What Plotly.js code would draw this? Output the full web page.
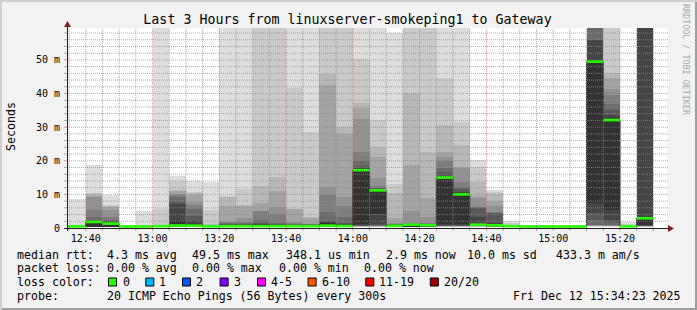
<!DOCTYPE html>
<html><head><meta charset="utf-8">
<script src="https://cdn.plot.ly/plotly-3.0.1.min.js"></script>
<style>html,body{margin:0;padding:0;background:#f2f2f2}#chart{width:697px;height:310px}</style>
</head><body><div id="chart"></div>
<script>
// ---------------- data ----------------
const chartTitle = "Last 3 Hours from linuxserver-smokeping1 to Gateway";
const rangeStart = "12:34:23";
const rangeEnd = "15:34:23";
// start of each 5-minute slot
const slotStart = ["12:30","12:35","12:40","12:45","12:50","12:55","13:00","13:05","13:10","13:15",
  "13:20","13:25","13:30","13:35","13:40","13:45","13:50","13:55","14:00","14:05",
  "14:10","14:15","14:20","14:25","14:30","14:35","14:40","14:45","14:50","14:55",
  "15:00","15:05","15:10","15:15","15:20","15:25"];
// median rtt per slot (ms)
const medianMs = [0.45,0.5,1.8,1.3,0.45,0.45,0.55,0.75,0.7,0.5,
  0.55,0.55,0.55,0.55,0.55,0.55,0.7,0.6,17.2,11.2,
  0.65,1.0,0.8,15.0,10.0,1.0,0.8,0.55,0.45,0.45,
  0.45,0.45,49.5,32.1,0.5,2.9];
// 20 sorted ping rtts per slot (ms)
const pingsMs = [
 [0.3,0.32,0.34,0.36,0.38,0.4,0.41,0.42,0.43,0.44,0.45,0.46,0.48,0.5,0.52,0.54,0.56,0.6,0.65,0.75],
 [0.3,0.32,0.34,0.36,0.38,0.4,0.41,0.42,0.43,0.44,0.45,0.46,0.48,0.5,0.52,0.54,0.56,0.6,0.8,8.6],
 [0.2,0.21,0.22,0.23,0.24,0.25,0.26,0.27,0.28,0.3,2.0,2.05,2.1,3.4,5.5,9.1,9.6,10.0,10.5,18.8],
 [0.2,0.22,0.25,0.28,0.3,0.32,0.34,0.36,0.38,0.4,1.5,1.6,2.0,2.4,3.4,5.4,6.2,6.5,6.7,9.9],
 [0.3,0.32,0.34,0.36,0.38,0.4,0.41,0.42,0.43,0.44,0.45,0.46,0.48,0.5,0.52,0.54,0.56,0.6,0.65,0.75],
 [0.3,0.32,0.34,0.36,0.38,0.4,0.41,0.42,0.43,0.44,0.45,0.46,0.48,0.5,0.52,0.54,0.56,0.6,0.9,5.1],
 [0.3,0.32,0.34,0.36,0.38,0.4,0.41,0.42,0.43,0.44,0.45,0.46,0.48,0.5,0.52,0.55,0.6,0.9,5.6,70],
 [0.3,0.32,0.34,0.36,0.38,0.4,0.42,0.45,0.5,0.55,2.0,7.0,7.8,9.1,9.8,10.1,11.0,11.3,14.0,15.5],
 [0.3,0.32,0.34,0.36,0.38,0.4,0.42,0.45,0.5,0.55,1.2,2.2,3.7,5.7,6.8,7.8,9.8,10.5,10.6,14.1],
 [0.3,0.32,0.34,0.36,0.38,0.4,0.41,0.42,0.43,0.44,0.45,0.46,0.48,0.5,0.55,0.6,0.8,1.2,5.3,13.8],
 [0.3,0.32,0.34,0.36,0.38,0.4,0.41,0.42,0.43,0.44,0.9,1.0,1.2,1.4,1.7,1.9,6.5,9.3,9.5,70],
 [0.3,0.32,0.34,0.36,0.38,0.4,0.41,0.42,0.43,0.44,0.9,1.0,1.2,1.5,1.9,2.9,6.6,6.8,11.5,70],
 [0.3,0.32,0.34,0.36,0.38,0.4,0.41,0.42,0.43,0.44,1.0,1.2,1.5,2.4,5.0,5.1,7.3,12.5,70,72],
 [0.3,0.32,0.34,0.36,0.38,0.4,0.41,0.42,0.43,0.44,0.9,1.0,1.2,1.6,4.1,6.2,11.1,15.3,70,72],
 [0.3,0.32,0.34,0.36,0.38,0.4,0.41,0.42,0.43,0.44,0.8,0.9,1.0,1.2,1.4,1.7,5.6,5.7,41.6,70],
 [0.3,0.32,0.34,0.36,0.38,0.4,0.41,0.42,0.43,0.44,0.8,0.9,1.0,1.05,1.1,1.2,3.1,3.2,28.5,70],
 [0.3,0.32,0.34,0.36,0.38,0.4,0.41,0.42,0.43,0.44,1.5,1.8,2.2,4.7,9.9,12.1,42.6,45.8,70,72],
 [0.3,0.32,0.34,0.36,0.38,0.4,0.41,0.42,0.43,0.44,1.0,1.2,1.5,3.2,6.6,9.1,28.0,30.0,70,72],
 [0.4,0.42,0.44,0.46,0.48,0.5,0.55,0.6,0.9,1.2,17.5,18.0,18.5,20.0,22.5,32.4,35.7,37.1,50.3,70],
 [0.3,0.35,0.4,0.45,0.5,0.55,0.6,0.9,1.2,4.2,11.4,11.6,11.8,12.0,12.6,14.9,21.0,24.2,32.0,70],
 [0.3,0.32,0.34,0.36,0.38,0.4,0.41,0.42,0.43,0.44,0.9,1.0,1.1,1.2,1.3,1.5,3.0,10.5,13.1,58.0],
 [0.3,0.32,0.34,0.36,0.38,0.4,0.41,0.42,0.43,0.44,1.1,1.2,1.3,1.4,1.6,5.1,18.8,40.1,70,72],
 [0.3,0.32,0.34,0.36,0.38,0.4,0.41,0.42,0.43,0.44,1.0,1.1,1.2,1.3,1.5,3.2,9.0,22.7,70,72],
 [0.3,0.35,0.4,0.45,0.5,0.55,0.6,0.7,0.8,1.2,15.3,15.6,16.8,18.0,20.0,21.0,22.5,30.7,44.6,70],
 [0.3,0.35,0.4,0.45,0.5,0.55,0.6,0.7,0.8,1.2,10.3,10.6,11.5,12.1,13.6,18.0,18.1,24.8,31.6,70],
 [0.3,0.35,0.4,0.45,0.5,0.55,0.6,0.7,0.8,0.9,1.3,3.4,6.1,6.2,6.3,8.9,9.6,13.6,18.1,20.2],
 [0.3,0.32,0.34,0.36,0.38,0.4,0.42,0.45,0.5,0.55,1.2,1.4,4.5,4.6,4.7,6.6,8.1,10.1,10.6,11.4],
 [0.3,0.32,0.34,0.36,0.38,0.4,0.41,0.42,0.43,0.44,0.45,0.46,0.48,0.5,0.55,0.6,0.8,1.0,1.5,2.2],
 [0.3,0.32,0.34,0.36,0.38,0.4,0.41,0.42,0.43,0.44,0.45,0.46,0.48,0.5,0.52,0.54,0.56,0.6,0.65,0.75],
 [0.3,0.32,0.34,0.36,0.38,0.4,0.41,0.42,0.43,0.44,0.45,0.46,0.48,0.5,0.52,0.54,0.56,0.6,0.65,0.75],
 [0.3,0.32,0.34,0.36,0.38,0.4,0.41,0.42,0.43,0.44,0.45,0.46,0.48,0.5,0.52,0.54,0.56,0.6,0.65,0.75],
 [0.3,0.32,0.34,0.36,0.38,0.4,0.41,0.42,0.43,0.44,0.45,0.46,0.48,0.5,0.52,0.54,0.56,0.6,0.65,0.75],
 [0.4,0.45,0.5,0.55,0.6,0.8,1.0,2.4,4.4,7.4,50.0,55.8,56.0,70,70,70,70,70,70,70],
 [0.4,0.45,0.5,0.55,0.6,0.7,0.8,1.5,2.4,5.3,32.5,33.5,35.0,37.0,39.5,41.5,44.5,46.0,70,72],
 [0.3,0.32,0.34,0.36,0.38,0.4,0.41,0.42,0.43,0.44,0.45,0.46,0.48,0.5,0.52,0.55,0.6,0.8,1.2,1.7],
 [0.3,0.35,0.4,0.45,0.5,0.55,0.6,0.7,0.8,1.0,3.0,70,70,70,70,70,70,70,70,70]
];
const yTickVals = [0,10,20,30,40,50];
const yTickText = ["0","10 m","20 m","30 m","40 m","50 m"];
const rttLabel = "median rtt:";
const rttStats = ["4.3 ms avg","49.5 ms max","348.1 us min","2.9 ms now","10.0 ms sd","433.3 m am/s"];
const lossLabel = "packet loss:";
const lossStats = ["0.00 % avg","0.00 % max","0.00 % min","0.00 % now"];
const colorLabel = "loss color:";
const lossNames = ["0","1","2","3","4-5","6-10","11-19","20/20"];
const lossColors = ["#26ff00","#00b8ff","#0059ff","#7e00ff","#ff00ff","#ff5500","#ff0000","#a10000"];
const probeLabel = "probe:";
const probeText = "20 ICMP Echo Pings (56 Bytes) every 300s";
const stampText = "Fri Dec 12 15:34:23 2025";
const yTitle = "Seconds";
const sideText = "RRDTOOL / TOBI OETIKER";

// ---------------- layout helpers ----------------
const FONT = "DejaVu Sans Mono";
const PL = 67, PT = 28, PW = 601, PH = 200;
const X = px => (px - PL) / PW;
const Y = py => (PT + PH - py) / PH;
const BASE = Date.UTC(2025, 11, 12);
const toMs = s => { const p = s.split(":").map(Number); return BASE + ((p[0]*60 + p[1])*60 + (p[2]||0))*1000; };
const SLOT = 300000;

const starts = slotStart.map(toMs);
const centers = starts.map(t => t + SLOT/2);
const ends = starts.map(t => t + SLOT);

const greys = [];
for (let k = 1; k <= 10; k++) { const c = Math.floor(190/10*(10-k)) + 50; greys.push(`rgb(${c},${c},${c})`); }

const traces = [];
for (let k = 0; k < 10; k++) {
  traces.push({type:"bar", x:centers, width:centers.map(()=>SLOT),
    base:pingsMs.map(p => p[k]), y:pingsMs.map(p => p[19-k] - p[k]),
    marker:{color:greys[k], line:{width:0}}, hoverinfo:"skip"});
}
// thin dark median step line
traces.push({type:"scatter", mode:"lines", x:starts.concat([ends[ends.length-1]]),
  y:medianMs.concat([medianMs[medianMs.length-1]]), line:{shape:"hv", color:"#202020", width:1}, hoverinfo:"skip"});
// loss-coloured median segments
const gx = [], gy = [];
starts.forEach((s,i) => { gx.push(s, ends[i], null); gy.push(medianMs[i], medianMs[i], null); });
traces.push({type:"scatter", mode:"lines", x:gx, y:gy, connectgaps:false,
  line:{color:lossColors[0], width:2.6}, hoverinfo:"skip"});

// ---------------- grid (drawn above the smoke, like rrdtool) ----------------
const GRID = "rgba(143,143,143,0.75)", MGRID = "rgba(222,79,79,0.6)";
const shapes = [];
for (let v = 2; v < 59.5; v += 2) {
  const col = v % 10 === 0 ? MGRID : GRID;
  shapes.push({type:"line", layer:"above", xref:"paper", yref:"y", x0:0, x1:1, y0:v, y1:v, line:{color:col, width:1, dash:"1px,1px"}});
  shapes.push({type:"line", layer:"above", xref:"paper", yref:"y", x0:X(64), x1:X(67), y0:v, y1:v, line:{color:col, width:1}});
}
const r0 = toMs(rangeStart), r1 = toMs(rangeEnd);
for (let t = toMs("12:35"); t < r1; t += SLOT) {
  const m = Math.round((t - BASE)/60000) % 60;
  const col = m % 20 === 0 ? MGRID : GRID;
  shapes.push({type:"line", layer:"above", xref:"x", yref:"paper", x0:t, x1:t, y0:0, y1:1, line:{color:col, width:1, dash:"1px,1px"}});
  shapes.push({type:"line", layer:"above", xref:"x", yref:"paper", x0:t, x1:t, y0:Y(231), y1:0, line:{color:col, width:1}});
}
// axes with arrows
shapes.push({type:"line", layer:"above", xref:"paper", yref:"paper", x0:X(64), x1:X(670), y0:Y(228.5), y1:Y(228.5), line:{color:"#1f1f1f", width:1}});
shapes.push({type:"line", layer:"above", xref:"paper", yref:"paper", x0:X(67.5), x1:X(67.5), y0:Y(231), y1:Y(25), line:{color:"#1f1f1f", width:1}});
shapes.push({type:"path", layer:"above", xref:"paper", yref:"paper",
  path:`M${X(668)},${Y(225)} L${X(674)},${Y(228.5)} L${X(668)},${Y(232)} Z`, fillcolor:"#801f1f", line:{width:0}});
shapes.push({type:"path", layer:"above", xref:"paper", yref:"paper",
  path:`M${X(64)},${Y(27)} L${X(67.5)},${Y(21)} L${X(71)},${Y(27)} Z`, fillcolor:"#801f1f", line:{width:0}});
// frame
shapes.push({type:"rect", xref:"paper", yref:"paper", x0:X(0), x1:X(697), y0:Y(0), y1:Y(2), fillcolor:"#cfcfcf", line:{width:0}});
shapes.push({type:"rect", xref:"paper", yref:"paper", x0:X(0), x1:X(2), y0:Y(0), y1:Y(310), fillcolor:"#cfcfcf", line:{width:0}});
shapes.push({type:"rect", xref:"paper", yref:"paper", x0:X(2), x1:X(697), y0:Y(308), y1:Y(310), fillcolor:"#9e9e9e", line:{width:0}});
shapes.push({type:"rect", xref:"paper", yref:"paper", x0:X(695), x1:X(697), y0:Y(2), y1:Y(310), fillcolor:"#9e9e9e", line:{width:0}});

// ---------------- legend text ----------------
const ann = [];
const txt = (text, px, py, opt) => ann.push(Object.assign({text, x:X(px), y:Y(py), xref:"paper", yref:"paper",
  xanchor:"left", yanchor:"middle", showarrow:false, borderpad:0, borderwidth:0,
  font:{family:FONT, size:11.6, color:"#000"}}, opt||{}));
const rowY = [254.5, 268, 282, 296];
txt(rttLabel, 16.5, rowY[0]);
[106.7,192,286,386,467,556].forEach((px,i) => txt(rttStats[i], px, rowY[0]));
txt(lossLabel, 16.5, rowY[1]);
[106.7,192.4,278.7,364.4].forEach((px,i) => txt(lossStats[i], px, rowY[1]));
txt(colorLabel, 16.5, rowY[2]);
const boxX = [108,145.3,182,219.6,257,307.6,365.3,429.8];
const labX = [123,159,196.4,233.8,271,321.8,379,444.4];
lossNames.forEach((n,i) => {
  shapes.push({type:"rect", xref:"paper", yref:"paper", x0:X(boxX[i]+0.5), x1:X(boxX[i]+8.5), y0:Y(rowY[2]-4), y1:Y(rowY[2]+4),
    fillcolor:lossColors[i], line:{color:"#000", width:1}});
  txt(n, labX[i], rowY[2]);
});
txt(probeLabel, 16.5, rowY[3]);
txt(probeText, 106.7, rowY[3]);
txt(stampText, 681, rowY[3], {xanchor:"right"});
txt(yTitle, 11, 127, {xanchor:"center", textangle:-90});
txt(sideText, 686, 60, {xanchor:"center", textangle:90, font:{family:FONT, size:8.4, color:"#a8a8a8"}});

const layout = {
  width:697, height:310, margin:{l:PL, r:697-PL-PW, t:PT, b:310-PT-PH, pad:0},
  paper_bgcolor:"#f2f2f2", plot_bgcolor:"#ffffff", showlegend:false,
  barmode:"overlay", bargap:0, hovermode:false,
  title:{text:chartTitle, x:347.5/697, xref:"container", xanchor:"center", y:1-19/310, yref:"container", yanchor:"middle",
    font:{family:FONT, size:13.3, color:"#000"}},
  xaxis:{type:"date", range:[r0, r1], tickmode:"linear", tick0:toMs("12:40"), dtick:20*60000, tickformat:"%H:%M",
    showgrid:false, zeroline:false, showline:false, ticks:"", ticklabelstandoff:3,
    tickfont:{family:FONT, size:10, color:"#000"}},
  yaxis:{range:[0,59.5], tickmode:"array", tickvals:yTickVals, ticktext:yTickText,
    showgrid:false, zeroline:false, showline:false, ticks:"", ticklabelstandoff:6,
    tickfont:{family:FONT, size:10, color:"#000"}},
  shapes, annotations:ann
};
Plotly.newPlot("chart", traces, layout, {staticPlot:true, displayModeBar:false});
</script></body></html>
